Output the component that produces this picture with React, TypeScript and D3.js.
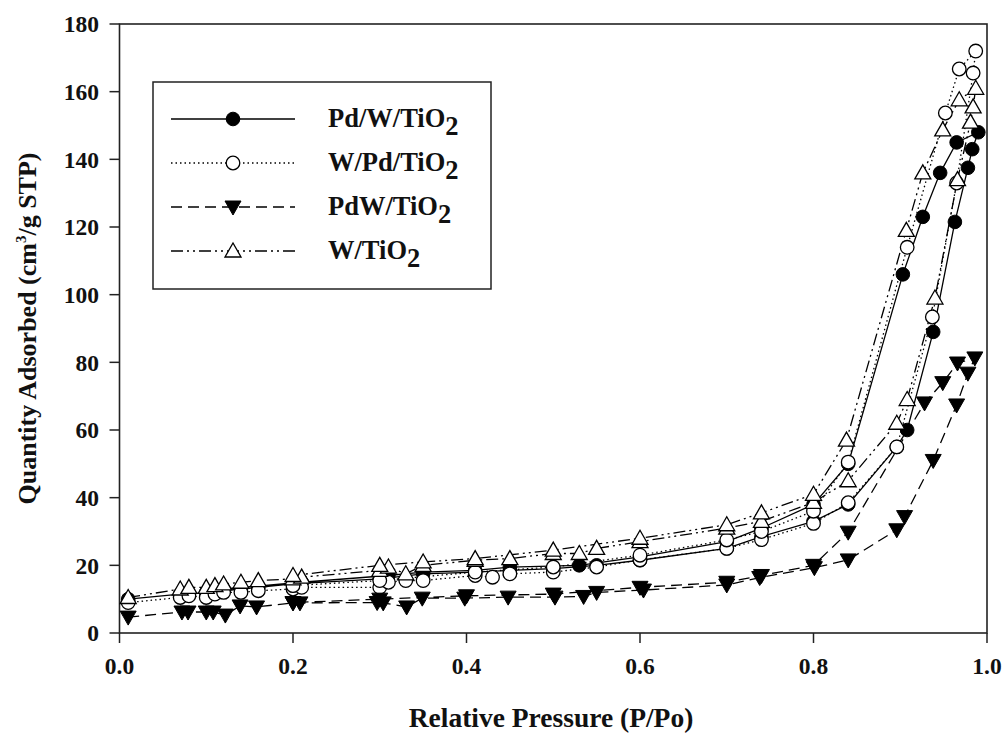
import React from "react";
import * as d3 from "d3";

// ---- data (P/Po, quantity adsorbed) : adsorption branch then desorption branch ----
const pdWTiO2: [number, number][] = [
  [0.01, 10], [0.07, 11.5], [0.08, 11.5], [0.1, 12], [0.11, 12.5], [0.12, 12.5], [0.14, 13], [0.16, 13.5],
  [0.2, 14.5], [0.3, 16], [0.35, 17.5], [0.41, 18], [0.45, 18.5], [0.5, 19], [0.55, 20], [0.6, 21.5],
  [0.7, 25], [0.74, 28.5], [0.8, 33], [0.84, 38], [0.896, 55], [0.908, 60], [0.938, 89], [0.963, 121.5],
  [0.978, 137.5], [0.983, 143], [0.99, 148],
  [0.965, 145], [0.946, 136], [0.926, 123], [0.903, 106], [0.84, 50], [0.8, 38], [0.74, 31], [0.7, 27],
  [0.6, 22.5], [0.53, 20], [0.45, 19.5], [0.41, 18.5], [0.35, 18], [0.31, 17], [0.21, 15], [0.12, 13],
];
const wPdTiO2: [number, number][] = [
  [0.01, 9], [0.07, 10.5], [0.08, 11], [0.1, 10.5], [0.11, 11.5], [0.12, 12], [0.14, 12], [0.16, 12.5],
  [0.2, 13], [0.21, 13.5], [0.3, 13.5], [0.31, 15], [0.33, 15.5], [0.35, 15.5], [0.41, 17], [0.43, 16.5],
  [0.45, 17.5], [0.5, 18], [0.55, 19.5], [0.6, 21.6], [0.7, 25], [0.74, 27.6], [0.8, 32.4], [0.84, 38.5],
  [0.896, 55], [0.937, 93.4], [0.965, 133], [0.984, 165.5], [0.987, 172],
  [0.968, 166.7], [0.952, 153.7], [0.908, 114], [0.84, 50.5], [0.8, 36], [0.74, 30], [0.7, 27.5],
  [0.6, 23], [0.5, 19.5], [0.41, 18], [0.3, 15.5], [0.2, 14],
];
const pdWTiO2Alloy: [number, number][] = [
  [0.01, 4.7], [0.072, 6.2], [0.079, 6.2], [0.1, 6.2], [0.108, 6.2], [0.122, 5.3], [0.139, 8], [0.158, 7.7],
  [0.2, 8.9], [0.208, 8.9], [0.297, 9], [0.304, 8.9], [0.331, 7.7], [0.349, 10.3], [0.398, 10.3],
  [0.448, 10.6], [0.502, 10.6], [0.535, 10.8], [0.55, 12], [0.604, 12.7], [0.7, 14.2], [0.738, 16.4],
  [0.801, 19.3], [0.84, 21.6], [0.896, 30.5], [0.905, 34.4], [0.938, 51], [0.965, 67.4], [0.978, 76.8],
  [0.986, 81.3],
  [0.966, 79.8], [0.949, 74], [0.928, 68], [0.84, 29.8], [0.8, 20], [0.74, 17], [0.7, 15], [0.6, 13.5],
  [0.5, 11.5], [0.4, 11], [0.3, 10], [0.2, 9],
];
const wTiO2: [number, number][] = [
  [0.01, 10.5], [0.07, 13], [0.08, 13.5], [0.1, 13.5], [0.11, 14], [0.12, 14.5], [0.14, 15], [0.16, 15.5],
  [0.2, 16], [0.21, 16.5], [0.3, 18.5], [0.31, 19.5], [0.33, 17.5], [0.35, 20], [0.41, 21.5], [0.45, 22],
  [0.5, 23.5], [0.53, 23.5], [0.55, 25], [0.6, 27], [0.7, 31], [0.74, 33], [0.8, 38.6], [0.84, 45],
  [0.896, 62], [0.908, 69], [0.94, 99], [0.966, 134], [0.981, 151], [0.984, 155.5], [0.987, 161],
  [0.968, 157.6], [0.949, 148.7], [0.926, 136], [0.907, 119], [0.838, 57], [0.8, 41], [0.74, 35.5],
  [0.7, 32], [0.6, 28], [0.5, 24.5], [0.41, 22], [0.35, 21], [0.3, 20], [0.2, 17],
];

const xTicks = [0, 0.2, 0.4, 0.6, 0.8, 1.0];
const yTicks = [0, 20, 40, 60, 80, 100, 120, 140, 160, 180];
const legendNames = ["Pd/W/TiO", "W/Pd/TiO", "PdW/TiO", "W/TiO"];

type Marker = "filledCircle" | "openCircle" | "filledDown" | "openUp";
const seriesList: { data: [number, number][]; marker: Marker; dash: string }[] = [
  { data: pdWTiO2, marker: "filledCircle", dash: "none" },
  { data: wPdTiO2, marker: "openCircle", dash: "1.5,3" },
  { data: pdWTiO2Alloy, marker: "filledDown", dash: "11,6" },
  { data: wTiO2, marker: "openUp", dash: "12,4,2,4,2,4" },
];

const FONT = "'Liberation Serif', 'Times New Roman', serif";

function MarkerShape({ kind, x, y }: { kind: Marker; x: number; y: number }) {
  const r = 6.8;
  if (kind === "filledCircle") return <circle cx={x} cy={y} r={r} fill="#000" stroke="#000" strokeWidth={1} />;
  if (kind === "openCircle") return <circle cx={x} cy={y} r={r} fill="#fff" stroke="#000" strokeWidth={1.3} />;
  const h = 14;
  const w = 8;
  if (kind === "filledDown")
    return (
      <path d={`M${x - w},${y - h / 2 + 1}L${x + w},${y - h / 2 + 1}L${x},${y + h / 2 + 1}Z`} fill="#000" stroke="#000" strokeWidth={1} />
    );
  return (
    <path d={`M${x - w},${y + h / 2 - 1}L${x + w},${y + h / 2 - 1}L${x},${y - h / 2 - 1}Z`} fill="#fff" stroke="#000" strokeWidth={1.3} />
  );
}

export default function App() {
  const W = 1004;
  const H = 733;
  const left = 119.5;
  const right = 987;
  const top = 24;
  const bottom = 633;
  const x = d3.scaleLinear().domain([0, 1]).range([left, right]);
  const y = d3.scaleLinear().domain([0, 180]).range([bottom, top]);
  const line = d3
    .line<[number, number]>()
    .x((d) => x(d[0]))
    .y((d) => y(d[1]));

  const legendRows = [119, 163, 207, 251];

  return (
    <div>
      <style>{"body{margin:0;background:#fff}"}</style>
      <svg width={W} height={H} style={{ display: "block", background: "#fff" }}>
        {/* frame */}
        <rect x={left} y={top} width={right - left} height={bottom - top} fill="none" stroke="#222" strokeWidth={1.6} />
        {/* y ticks */}
        {yTicks.map((t) => (
          <g key={"y" + t}>
            <line x1={left - 10} x2={left} y1={y(t)} y2={y(t)} stroke="#222" strokeWidth={1.5} />
            <text x={99} y={y(t)} dy="0.35em" textAnchor="end" fontFamily={FONT} fontWeight="bold" fontSize={23.5} fill="#111">
              {t}
            </text>
          </g>
        ))}
        {/* x ticks */}
        {xTicks.map((t) => (
          <g key={"x" + t}>
            <line x1={x(t)} x2={x(t)} y1={bottom} y2={bottom + 10} stroke="#222" strokeWidth={1.5} />
            <text x={x(t)} y={674} textAnchor="middle" fontFamily={FONT} fontWeight="bold" fontSize={23.5} fill="#111">
              {d3.format(".1f")(t)}
            </text>
          </g>
        ))}
        {/* axis titles */}
        <text x={551} y={727} textAnchor="middle" fontFamily={FONT} fontWeight="bold" fontSize={27.5} fill="#111">
          Relative Pressure (P/Po)
        </text>
        <text
          transform={`translate(36,${(top + bottom) / 2}) rotate(-90)`}
          textAnchor="middle"
          fontFamily={FONT}
          fontWeight="bold"
          fontSize={26}
          fill="#111"
        >
          Quantity Adsorbed (cm<tspan fontSize={15} dy={-10}>3</tspan>
          <tspan dy={10}>/g STP)</tspan>
        </text>
        {/* series lines */}
        {seriesList.map((s, i) => (
          <path key={"l" + i} d={line(s.data) || ""} fill="none" stroke="#000" strokeWidth={1.3} strokeDasharray={s.dash} />
        ))}
        {/* markers */}
        {seriesList.map((s, i) => (
          <g key={"m" + i}>
            {s.data.map((d, j) => (
              <MarkerShape key={j} kind={s.marker} x={x(d[0])} y={y(d[1])} />
            ))}
          </g>
        ))}
        {/* legend */}
        <rect x={153} y={82} width={338} height={207} fill="#fff" stroke="#222" strokeWidth={1.5} />
        {seriesList.map((s, i) => (
          <g key={"lg" + i}>
            <line x1={171} x2={295} y1={legendRows[i]} y2={legendRows[i]} stroke="#000" strokeWidth={1.3} strokeDasharray={s.dash} />
            <MarkerShape kind={s.marker} x={233} y={legendRows[i]} />
            <text x={328} y={legendRows[i] + 8} fontFamily={FONT} fontWeight="bold" fontSize={26.5} fill="#111">
              {legendNames[i]}
              <tspan dy={8}>2</tspan>
            </text>
          </g>
        ))}
      </svg>
    </div>
  );
}
